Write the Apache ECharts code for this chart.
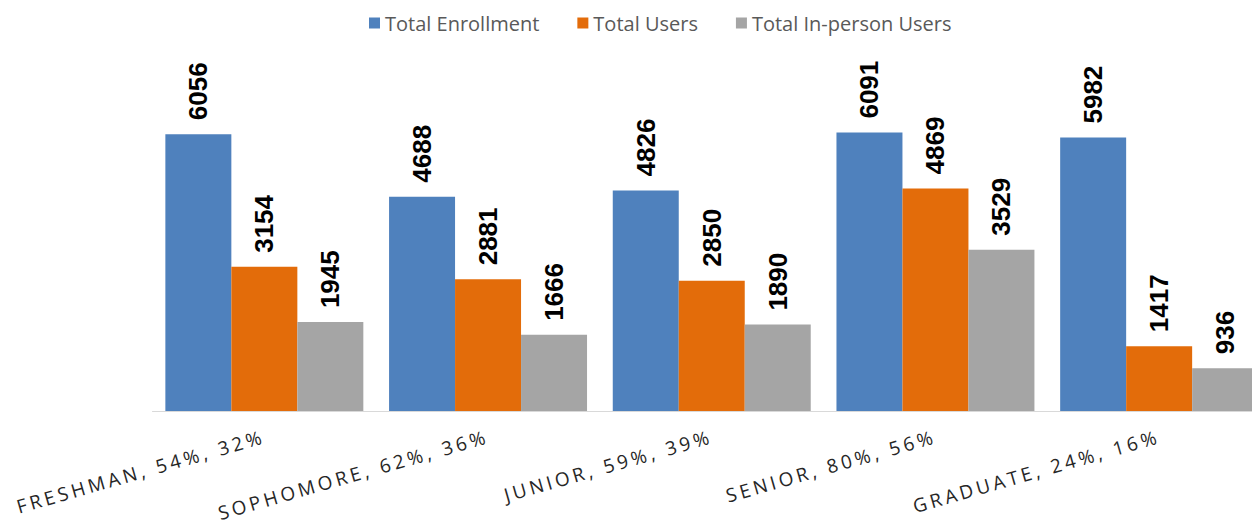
<!DOCTYPE html>
<html>
<head>
<meta charset="utf-8">
<script src="https://cdn.jsdelivr.net/npm/echarts@6/dist/echarts.min.js"></script>
<style>
  html, body {
    margin: 0;
    padding: 0;
    background: #ffffff;
    overflow: hidden;
  }

  /* the original picture is cropped on the right, so the chart is a bit wider than the page */
  #chart {
    width: 1271px;
    height: 521px;
  }

  /* the category labels are spaced out like the original */
  #chart text[style*="Lato"],
  #chart text[font-family*="Lato"] {
    letter-spacing: 3.5px;
  }
</style>
</head>
<body>
<div id="chart"></div>

<script>
const categories = [
  "FRESHMAN, 54%, 32%",
  "SOPHOMORE, 62%, 36%",
  "JUNIOR, 59%, 39%",
  "SENIOR, 80%, 56%",
  "GRADUATE, 24%, 16%"
];

const seriesNames = ["Total Enrollment", "Total Users", "Total In-person Users"];

const totalEnrollment = [6056, 4688, 4826, 6091, 5982];
const totalUsers = [3154, 2881, 2850, 4869, 1417];
const inPersonUsers = [1945, 1666, 1890, 3529, 936];

const colors = ["#4f81bd", "#e36c0a", "#a5a5a5"];

const chart = echarts.init(document.getElementById("chart"), null, { renderer: "svg" });

const barLabel = {
  show: true,
  position: "top",
  rotate: 90,
  align: "left",
  verticalAlign: "middle",
  distance: 14,
  color: "#000000",
  fontFamily: "Liberation Sans, Arial, sans-serif",
  fontWeight: "bold",
  fontSize: 26
};

const makeSeries = (name, data, color) => {
  return {
    name: name,
    type: "bar",
    data: data,
    barGap: "0%",
    barCategoryGap: "11.5%",
    itemStyle: {
      color: color
    },
    label: barLabel
  };
};

chart.setOption({
  animation: false,
  legend: {
    top: 8,
    left: 364,
    icon: "rect",
    itemWidth: 11,
    itemHeight: 11,
    itemGap: 38,
    data: seriesNames,
    textStyle: {
      color: "#595959",
      fontSize: 20,
      fontFamily: "Open Sans, sans-serif"
    }
  },
  grid: {
    left: 152.5,
    right: 0,
    top: 91,
    bottom: 110,
    containLabel: false
  },
  xAxis: {
    type: "category",
    data: categories,
    axisLine: {
      lineStyle: {
        color: "#d9d9d9",
        width: 1
      }
    },
    axisTick: {
      show: false
    },
    axisLabel: {
      interval: 0,
      rotate: 16,
      margin: 25,
      color: "#262626",
      fontSize: 19,
      fontFamily: "Open Sans, Lato, sans-serif"
    }
  },
  yAxis: {
    type: "value",
    min: 0,
    max: 7000,
    show: false,
    splitLine: {
      show: false
    }
  },
  series: [
    makeSeries(seriesNames[0], totalEnrollment, colors[0]),
    makeSeries(seriesNames[1], totalUsers, colors[1]),
    makeSeries(seriesNames[2], inPersonUsers, colors[2])
  ]
});
</script>
</body>
</html>
